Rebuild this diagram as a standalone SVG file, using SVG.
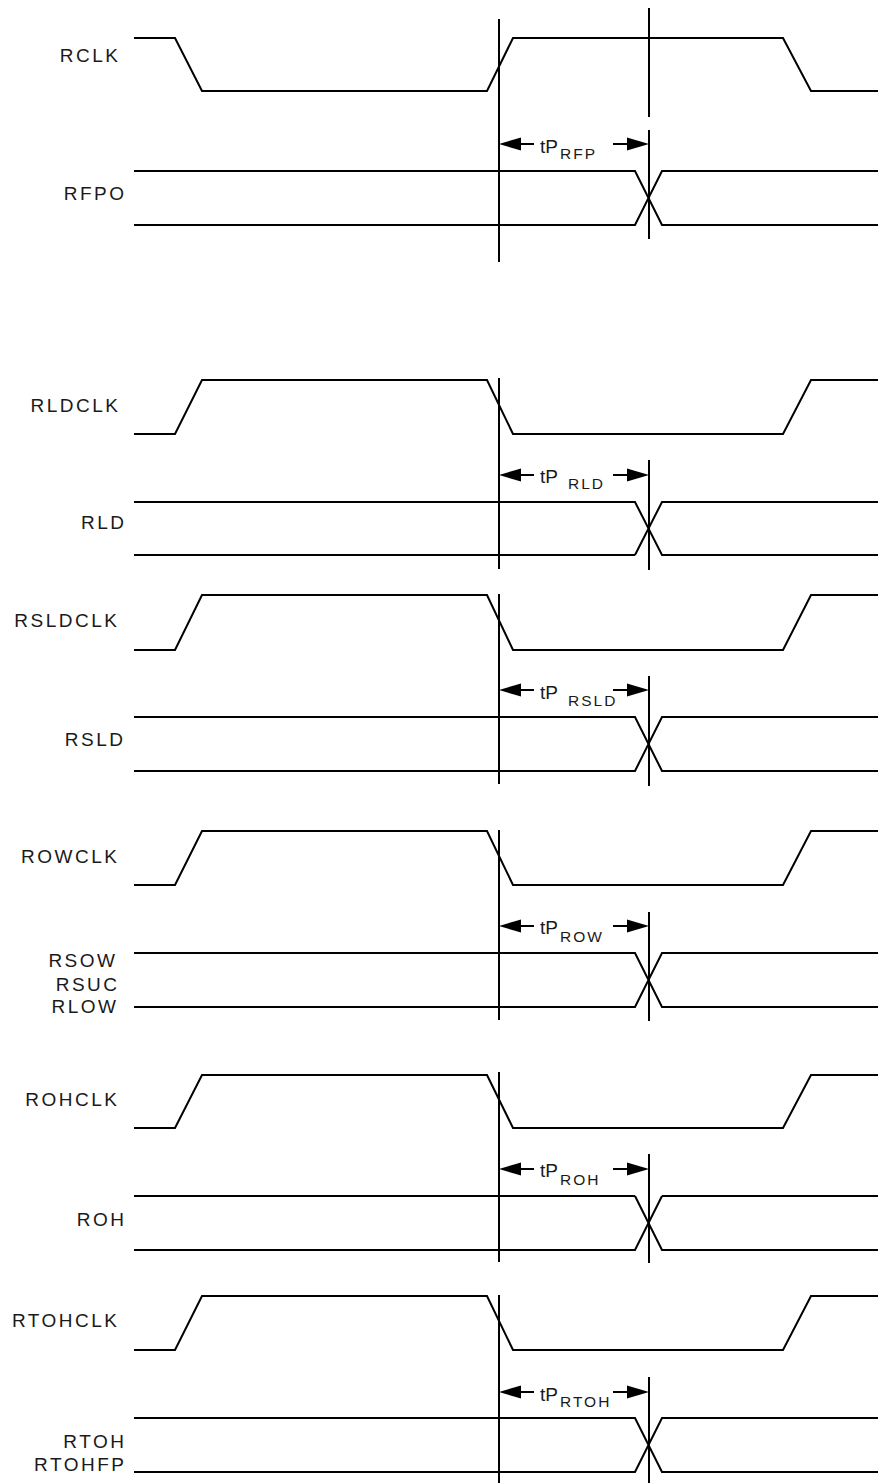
<svg xmlns="http://www.w3.org/2000/svg" width="878" height="1483" viewBox="0 0 878 1483">
<style>
.w{fill:none;stroke:#000;stroke-width:2;stroke-linejoin:miter}
.v{stroke:#000;stroke-width:2}
.lbl{font-family:"Liberation Sans",Arial,sans-serif;font-size:19px;letter-spacing:2.5px;fill:#1a1a1a}
.tp{font-family:"Liberation Sans",Arial,sans-serif;font-size:19px;fill:#1a1a1a}
.sub{font-family:"Liberation Sans",Arial,sans-serif;font-size:15.5px;letter-spacing:2px;fill:#1a1a1a}
.ah{fill:#000;stroke:none}
</style>
<defs>
<path id="al" class="ah" d="M0,0 L22,-6.5 L22,6.5 Z"/>
<path id="ar" class="ah" d="M0,0 L-22,-6.5 L-22,6.5 Z"/>
</defs>
<rect width="878" height="1483" fill="#fff"/>

<g id="rclk">
<text class="lbl" x="120.5" y="62" text-anchor="end">RCLK</text>
<path class="w" d="M134,38 H175 L202,91 H487 L513,38 H783 L811,91 H878"/>
</g>
<g id="rfpo">
<text class="lbl" x="126.5" y="200" text-anchor="end">RFPO</text>
<path class="w" d="M134,171 H635 L662,225 H878 M134,225 H635 L662,171 H878"/>
</g>

<g id="rldclk">
<text class="lbl" x="120.5" y="412" text-anchor="end">RLDCLK</text>
<path class="w" d="M134,434 H175 L202,380 H487 L513,434 H783 L811,380 H878"/>
</g>
<g id="rld">
<text class="lbl" x="126.5" y="529" text-anchor="end">RLD</text>
<path class="w" d="M134,502 H635 L662,555 H878 M635,555 L662,502 H878"/>
<path class="w" stroke-width="3" d="M134,555 H635"/>
</g>

<g id="rsldclk">
<text class="lbl" x="119.5" y="627" text-anchor="end">RSLDCLK</text>
<path class="w" d="M134,650 H175 L202,595 H487 L513,650 H783 L811,595 H878"/>
</g>
<g id="rsld">
<text class="lbl" x="125.5" y="746" text-anchor="end">RSLD</text>
<path class="w" d="M134,717 H635 L662,771 H878 M134,771 H635 L662,717 H878"/>
</g>

<g id="rowclk">
<text class="lbl" x="119.5" y="863" text-anchor="end">ROWCLK</text>
<path class="w" d="M134,885 H175 L202,831 H487 L513,885 H783 L811,831 H878"/>
</g>
<g id="rsow">
<text class="lbl" x="117.5" y="967" text-anchor="end">RSOW</text>
<text class="lbl" x="119.5" y="991" text-anchor="end">RSUC</text>
<text class="lbl" x="118.5" y="1013" text-anchor="end">RLOW</text>
<path class="w" d="M134,953 H635 L662,1007 H878 M134,1007 H635 L662,953 H878"/>
</g>

<g id="rohclk">
<text class="lbl" x="119.5" y="1106" text-anchor="end">ROHCLK</text>
<path class="w" d="M134,1128 H175 L202,1075 H487 L513,1128 H783 L811,1075 H878"/>
</g>
<g id="roh">
<text class="lbl" x="126.5" y="1226" text-anchor="end">ROH</text>
<path class="w" d="M635,1196 L662,1250 H878 M134,1250 H635 L662,1196"/>
<path class="w" stroke-width="3" d="M134,1196 H635 M662,1196 H878"/>
</g>

<g id="rtohclk">
<text class="lbl" x="119.5" y="1327" text-anchor="end">RTOHCLK</text>
<path class="w" d="M134,1350 H175 L202,1296 H487 L513,1350 H783 L811,1296 H878"/>
</g>
<g id="rtoh">
<text class="lbl" x="126.5" y="1448" text-anchor="end">RTOH</text>
<text class="lbl" x="126.5" y="1471" text-anchor="end">RTOHFP</text>
<path class="w" d="M134,1418 H635 L662,1472 H878 M134,1472 H635 L662,1418 H878"/>
</g>

<g id="connectors">
<line class="v" x1="499" y1="19" x2="499" y2="262"/>
<line class="v" x1="649" y1="8" x2="649" y2="117"/>
<line class="v" x1="649" y1="130" x2="649" y2="239"/>
<line class="v" x1="520" y1="144" x2="534" y2="144"/><use href="#al" x="499" y="144"/>
<line class="v" x1="613" y1="144" x2="628" y2="144"/><use href="#ar" x="649" y="144"/>

<line class="v" x1="499" y1="378" x2="499" y2="569"/>
<line class="v" x1="649" y1="460" x2="649" y2="570"/>
<line class="v" x1="520" y1="475" x2="534" y2="475"/><use href="#al" x="499" y="475"/>
<line class="v" x1="613" y1="475" x2="628" y2="475"/><use href="#ar" x="649" y="475"/>

<line class="v" x1="499" y1="594" x2="499" y2="784"/>
<line class="v" x1="649" y1="676" x2="649" y2="786"/>
<line class="v" x1="520" y1="690" x2="534" y2="690"/><use href="#al" x="499" y="690"/>
<line class="v" x1="613" y1="690" x2="628" y2="690"/><use href="#ar" x="649" y="690"/>

<line class="v" x1="499" y1="830" x2="499" y2="1020"/>
<line class="v" x1="649" y1="912" x2="649" y2="1021"/>
<line class="v" x1="520" y1="926" x2="534" y2="926"/><use href="#al" x="499" y="926"/>
<line class="v" x1="613" y1="926" x2="628" y2="926"/><use href="#ar" x="649" y="926"/>

<line class="v" x1="499" y1="1072" x2="499" y2="1262"/>
<line class="v" x1="649" y1="1154" x2="649" y2="1263"/>
<line class="v" x1="520" y1="1169" x2="534" y2="1169"/><use href="#al" x="499" y="1169"/>
<line class="v" x1="613" y1="1169" x2="628" y2="1169"/><use href="#ar" x="649" y="1169"/>

<line class="v" x1="499" y1="1295" x2="499" y2="1483"/>
<line class="v" x1="649" y1="1377" x2="649" y2="1483"/>
<line class="v" x1="520" y1="1392" x2="534" y2="1392"/><use href="#al" x="499" y="1392"/>
<line class="v" x1="613" y1="1392" x2="628" y2="1392"/><use href="#ar" x="649" y="1392"/>
</g>

<g id="delay-labels">
<text class="tp" x="540" y="153">tP</text><text class="sub" x="560" y="159">RFP</text>
<text class="tp" x="540" y="483">tP</text><text class="sub" x="568" y="489">RLD</text>
<text class="tp" x="540" y="699">tP</text><text class="sub" x="568" y="706">RSLD</text>
<text class="tp" x="540" y="934">tP</text><text class="sub" x="560" y="942">ROW</text>
<text class="tp" x="540" y="1177">tP</text><text class="sub" x="560" y="1185">ROH</text>
<text class="tp" x="540" y="1401">tP</text><text class="sub" x="560" y="1407">RTOH</text>
</g>
</svg>
